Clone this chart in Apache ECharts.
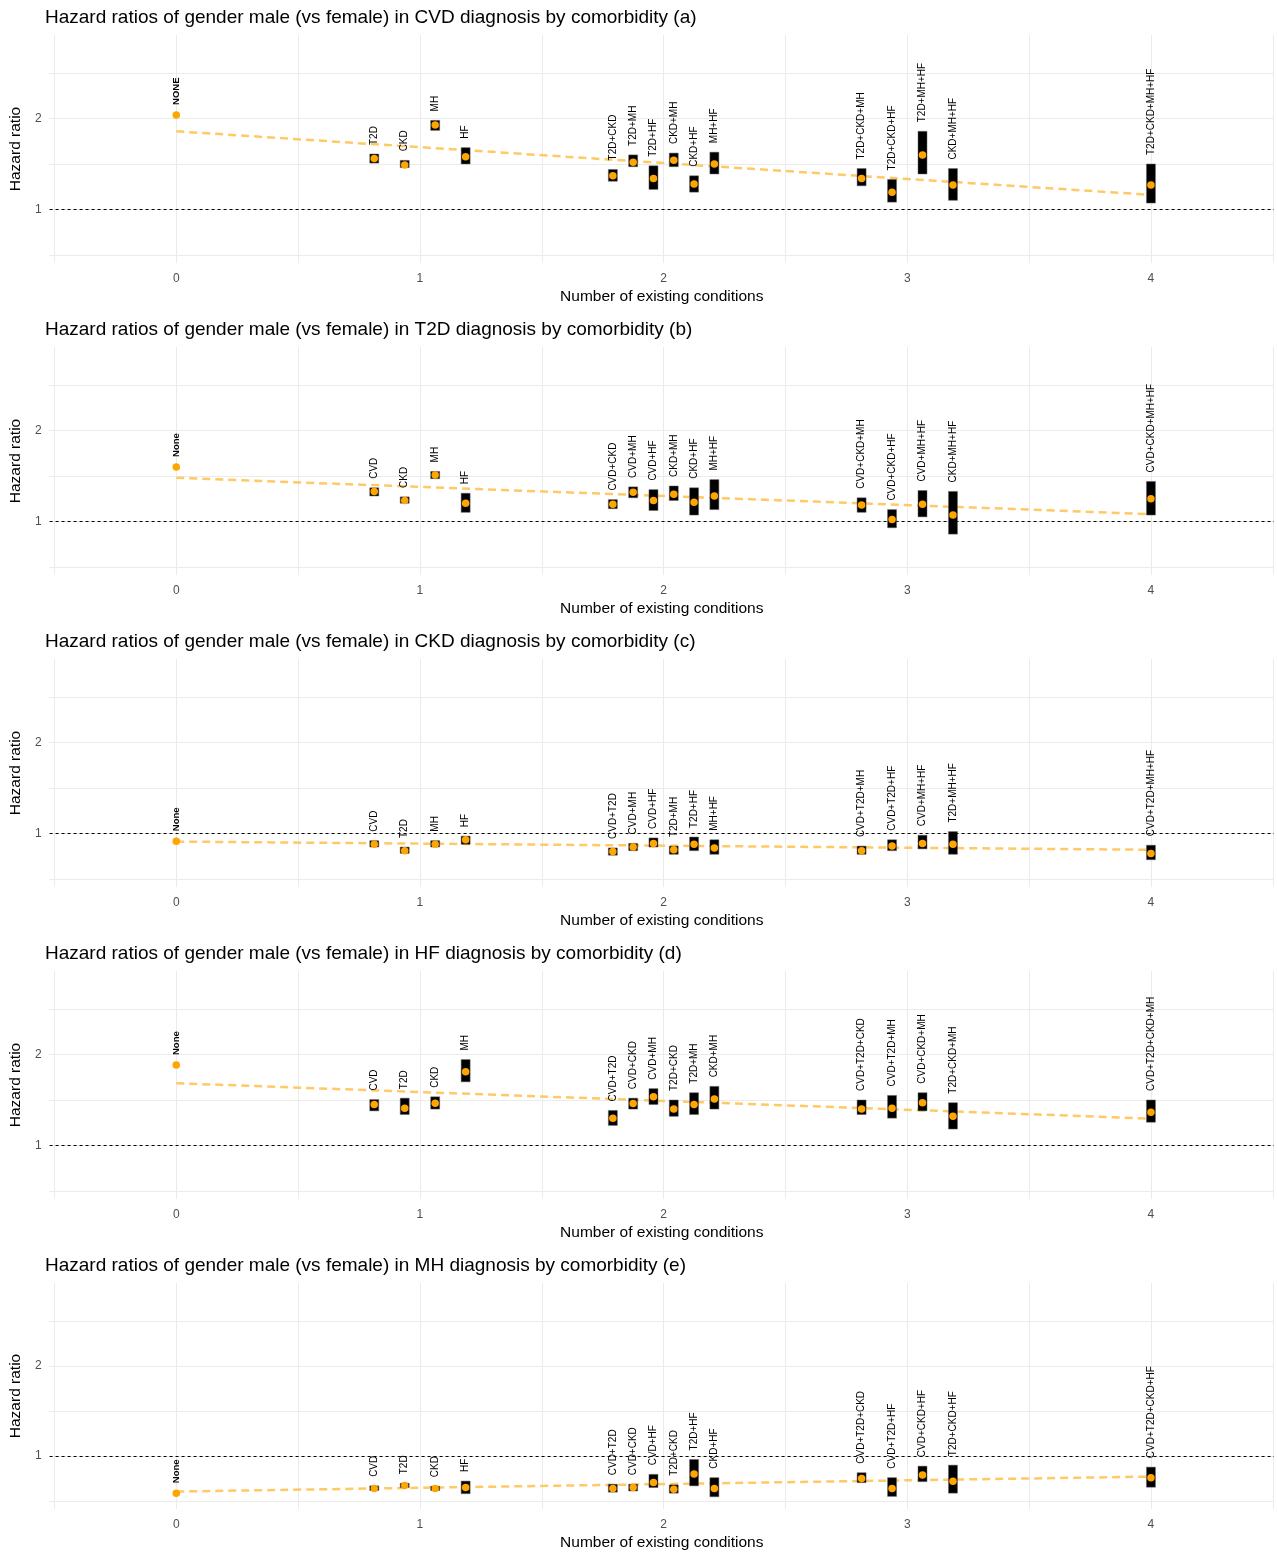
<!DOCTYPE html>
<html><head><meta charset="utf-8">
<script src="https://cdn.jsdelivr.net/npm/echarts@6/dist/echarts.min.js"></script>
<style>html,body{margin:0;padding:0;background:#fff}#c{width:1277px;height:1552px}</style>
</head><body><div id="c"></div>
<script>
const FONT = '"Liberation Sans", Arial, sans-serif';

const panelOutcomes = ['CVD', 'T2D', 'CKD', 'HF', 'MH'];
const panelLetters = ['a', 'b', 'c', 'd', 'e'];
const xTitle = 'Number of existing conditions';
const yTitle = 'Hazard ratio';
const xTickLabels = [0, 1, 2, 3, 4];
const yTickLabels = [1, 2];
const xGridValues = [-0.5, 0, 0.5, 1, 1.5, 2, 2.5, 3, 3.5, 4, 4.5];
const yGridValues = [0.5, 1, 1.5, 2, 2.5];
const refValue = 1;
const trendX = [0, 4];

// Panel (a): CVD diagnosis
const labelsA = ['NONE','T2D','CKD','MH','HF','T2D+CKD','T2D+MH','T2D+HF','CKD+MH','CKD+HF','MH+HF','T2D+CKD+MH','T2D+CKD+HF','T2D+MH+HF','CKD+MH+HF','T2D+CKD+MH+HF'];
const hrA = [2.04, 1.56, 1.49, 1.93, 1.58, 1.37, 1.52, 1.34, 1.54, 1.28, 1.50, 1.34, 1.19, 1.60, 1.27, 1.27];
const loA = [2.04, 1.51, 1.46, 1.87, 1.50, 1.31, 1.47, 1.22, 1.47, 1.19, 1.39, 1.26, 1.08, 1.39, 1.10, 1.07];
const upA = [2.04, 1.61, 1.54, 1.98, 1.68, 1.44, 1.60, 1.48, 1.62, 1.37, 1.63, 1.45, 1.33, 1.86, 1.45, 1.50];
const trendA = [1.86, 1.16];

// Panel (b): T2D diagnosis
const labelsB = ['None','CVD','CKD','MH','HF','CVD+CKD','CVD+MH','CVD+HF','CKD+MH','CKD+HF','MH+HF','CVD+CKD+MH','CVD+CKD+HF','CVD+MH+HF','CKD+MH+HF','CVD+CKD+MH+HF'];
const hrB = [1.60, 1.33, 1.23, 1.51, 1.20, 1.19, 1.32, 1.23, 1.30, 1.21, 1.28, 1.18, 1.02, 1.19, 1.07, 1.25];
const loB = [1.60, 1.28, 1.20, 1.47, 1.10, 1.14, 1.26, 1.12, 1.23, 1.07, 1.13, 1.10, 0.93, 1.05, 0.86, 1.07];
const upB = [1.60, 1.37, 1.27, 1.55, 1.31, 1.24, 1.38, 1.35, 1.39, 1.37, 1.46, 1.26, 1.13, 1.34, 1.33, 1.44];
const trendB = [1.48, 1.08];

// Panel (c): CKD diagnosis
const labelsC = ['None','CVD','T2D','MH','HF','CVD+T2D','CVD+MH','CVD+HF','T2D+MH','T2D+HF','MH+HF','CVD+T2D+MH','CVD+T2D+HF','CVD+MH+HF','T2D+MH+HF','CVD+T2D+MH+HF'];
const hrC = [0.915, 0.88, 0.81, 0.88, 0.93, 0.80, 0.85, 0.89, 0.82, 0.88, 0.84, 0.81, 0.86, 0.89, 0.88, 0.78];
const loC = [0.915, 0.85, 0.78, 0.85, 0.88, 0.76, 0.81, 0.85, 0.77, 0.81, 0.77, 0.77, 0.81, 0.83, 0.77, 0.71];
const upC = [0.915, 0.92, 0.85, 0.92, 0.97, 0.84, 0.89, 0.95, 0.86, 0.96, 0.93, 0.86, 0.93, 0.98, 1.02, 0.87];
const trendC = [0.91, 0.82];

// Panel (d): HF diagnosis
const labelsD = ['None','CVD','T2D','CKD','MH','CVD+T2D','CVD+CKD','CVD+MH','T2D+CKD','T2D+MH','CKD+MH','CVD+T2D+CKD','CVD+T2D+MH','CVD+CKD+MH','T2D+CKD+MH','CVD+T2D+CKD+MH'];
const hrD = [1.885, 1.45, 1.41, 1.465, 1.81, 1.30, 1.46, 1.535, 1.40, 1.45, 1.51, 1.40, 1.41, 1.47, 1.32, 1.365];
const loD = [1.885, 1.38, 1.34, 1.40, 1.70, 1.22, 1.40, 1.45, 1.32, 1.34, 1.40, 1.34, 1.30, 1.38, 1.18, 1.255];
const upD = [1.885, 1.505, 1.52, 1.535, 1.945, 1.385, 1.52, 1.625, 1.50, 1.58, 1.65, 1.50, 1.55, 1.58, 1.47, 1.50];
const trendD = [1.685, 1.295];

// Panel (e): MH diagnosis
const labelsE = ['None','CVD','T2D','CKD','HF','CVD+T2D','CVD+CKD','CVD+HF','T2D+CKD','T2D+HF','CKD+HF','CVD+T2D+CKD','CVD+T2D+HF','CVD+CKD+HF','T2D+CKD+HF','CVD+T2D+CKD+HF'];
const hrE = [0.586, 0.637, 0.67, 0.637, 0.648, 0.637, 0.648, 0.703, 0.63, 0.80, 0.637, 0.75, 0.637, 0.787, 0.718, 0.758];
const loE = [0.586, 0.615, 0.648, 0.615, 0.58, 0.597, 0.61, 0.648, 0.586, 0.667, 0.546, 0.703, 0.55, 0.714, 0.586, 0.652];
const upE = [0.586, 0.667, 0.696, 0.663, 0.72, 0.685, 0.685, 0.795, 0.678, 0.96, 0.758, 0.813, 0.758, 0.886, 0.897, 0.875];
const trendE = [0.604, 0.77];

const panels = [
  {labels: labelsA, hr: hrA, lo: loA, up: upA, trend: trendA},
  {labels: labelsB, hr: hrB, lo: loB, up: upB, trend: trendB},
  {labels: labelsC, hr: hrC, lo: loC, up: upC, trend: trendC},
  {labels: labelsD, hr: hrD, lo: loD, up: upD, trend: trendD},
  {labels: labelsE, hr: hrE, lo: loE, up: upE, trend: trendE}
];

// layout
const X_MIN = -0.52, X_MAX = 4.505, Y_MIN = 0.41, Y_MAX = 2.92;
const DODGE = 0.5;
const PANEL_H = 312;

function nCond(label) {
  return label.toLowerCase() === 'none' ? 0 : label.split('+').length;
}
function dodge(labels) {
  const counts = {}, seen = {};
  labels.forEach(l => { const n = nCond(l); counts[n] = (counts[n] || 0) + 1; });
  return labels.map(l => {
    const n = nCond(l); const k = counts[n]; const i = seen[n] || 0; seen[n] = i + 1;
    return n + (i - (k - 1) / 2) * (DODGE / k);
  });
}

const title = [], grid = [], xAxis = [], yAxis = [], series = [];
panels.forEach((p, i) => {
  const xs = dodge(p.labels);
  title.push({
    text: 'Hazard ratios of gender male (vs female) in ' + panelOutcomes[i] + ' diagnosis by comorbidity (' + panelLetters[i] + ')',
    left: 45, top: 8 + PANEL_H * i, padding: 0,
    textStyle: {fontFamily: FONT, fontSize: 19, fontWeight: 'normal', color: '#000'}
  });
  grid.push({left: 45, right: 0, top: 35 + PANEL_H * i, height: 228});
  xAxis.push({
    type: 'value', gridIndex: i, min: X_MIN, max: X_MAX,
    name: xTitle, nameLocation: 'middle', nameGap: 26,
    nameTextStyle: {fontFamily: FONT, fontSize: 15.5, color: '#000'},
    axisLine: {show: false}, axisTick: {show: false}, splitLine: {show: false},
    axisLabel: {
      fontFamily: FONT, fontSize: 12, color: '#4D4D4D', margin: 10,
      formatter: v => (xTickLabels.indexOf(Math.round(v * 1000) / 1000) >= 0 ? String(Math.round(v)) : '')
    }
  });
  yAxis.push({
    type: 'value', gridIndex: i, min: Y_MIN, max: Y_MAX, splitNumber: 5,
    name: yTitle, nameLocation: 'middle', nameGap: 17,
    nameTextStyle: {fontFamily: FONT, fontSize: 15.5, color: '#000'},
    axisLine: {show: false}, axisTick: {show: false}, splitLine: {show: false},
    axisLabel: {
      fontFamily: FONT, fontSize: 12, color: '#4D4D4D', margin: 8,
      formatter: v => (yTickLabels.indexOf(Math.round(v * 1000) / 1000) >= 0 ? String(Math.round(v)) : '')
    }
  });
  // gridlines
  series.push({
    type: 'line', xAxisIndex: i, yAxisIndex: i, data: [[X_MIN, Y_MIN]], symbol: 'none',
    lineStyle: {opacity: 0}, silent: true, z: 0,
    markLine: {
      z: 1, silent: true, symbol: ['none', 'none'], animation: false,
      label: {show: false},
      lineStyle: {color: '#EBEBEB', width: 1, type: 'solid'},
      data: xGridValues.map(v => ({xAxis: v})).concat(yGridValues.map(v => ({yAxis: v})))
    }
  });
  // reference line at HR = 1
  series.push({
    type: 'line', xAxisIndex: i, yAxisIndex: i, data: [[X_MIN, Y_MIN]], symbol: 'none',
    lineStyle: {opacity: 0}, silent: true, z: 0,
    markLine: {
      z: 2, silent: true, symbol: ['none', 'none'], animation: false,
      label: {show: false},
      lineStyle: {color: '#000', width: 1, type: [3, 3]},
      data: [{yAxis: refValue}]
    }
  });
  // trend line
  series.push({
    type: 'line', xAxisIndex: i, yAxisIndex: i, z: 3, silent: true,
    data: trendX.map((x, j) => [x, p.trend[j]]), symbol: 'none',
    lineStyle: {color: '#FFC966', width: 2.5, type: [8, 5]}
  });
  // CI bars + labels
  series.push({
    type: 'custom', xAxisIndex: i, yAxisIndex: i, z: 4, silent: true,
    encode: {x: 0, y: [1, 2]},
    data: xs.map((x, j) => [x, p.lo[j], p.up[j]]),
    renderItem: (params, api) => {
      const idx = params.dataIndex;
      const x = api.value(0), lo = api.value(1), up = api.value(2);
      const top = api.coord([x, up]), bot = api.coord([x, lo]);
      const h = bot[1] - top[1];
      const lab = p.labels[idx];
      const isNone = lab.toLowerCase() === 'none';
      const children = [];
      if (h > 0.5) children.push({type: 'rect', shape: {x: top[0] - 4.5, y: top[1], width: 9, height: h}, style: {fill: '#000', stroke: '#666', lineWidth: 0.5}});
      children.push({
        type: 'text', x: top[0], y: top[1] - (isNone ? 10 : 9), rotation: Math.PI / 2,
        style: {text: lab, x: 0, y: 0, fill: '#000', fontFamily: FONT, fontSize: isNone ? 9.5 : 10,
                fontWeight: isNone ? 'bold' : 'normal', align: 'left', verticalAlign: 'middle'}
      });
      return {type: 'group', children};
    }
  });
  // point estimates
  series.push({
    type: 'scatter', xAxisIndex: i, yAxisIndex: i, z: 5, silent: true,
    data: xs.map((x, j) => [x, p.hr[j]]), symbolSize: 7.5,
    itemStyle: {color: '#FFA500', opacity: 1}
  });
});

const chart = echarts.init(document.getElementById('c'), null, {renderer: 'canvas'});
chart.setOption({animation: false, backgroundColor: '#fff', title, grid, xAxis, yAxis, series});
</script></body></html>
